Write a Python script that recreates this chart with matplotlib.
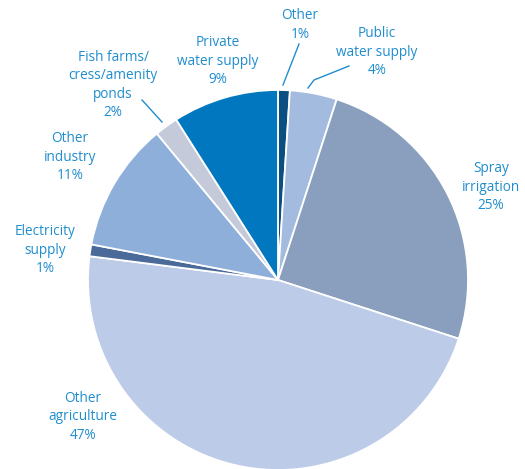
import matplotlib.pyplot as plt

# slices clockwise from 12 o'clock
labels = ['Other', 'Public\nwater supply', 'Spray\nirrigation', 'Other\nagriculture',
          'Electricity\nsupply', 'Other\nindustry', 'Fish farms/\ncress/amenity\nponds',
          'Private\nwater supply']
shares = [1, 4, 25, 47, 1, 11, 2, 9]
colors = ['#0b4f82', '#a3bbdf', '#8a9ebe', '#bccbe8', '#4a6a99', '#8fafdb', '#c5cadb', '#0077be']

# label centres in pixels (x from left, y from top)
label_pos = [(300, 25), (377, 52), (491, 187), (83, 417), (45, 250), (70, 157), (113, 85), (218, 61)]

W, H = 525, 469
fig = plt.figure(figsize=(W / 100, H / 100), dpi=100)
ax = fig.add_axes([0, 0, 1, 1])

cx, cy, r = 278, H - 280, 190
ax.pie(shares, colors=colors, startangle=90, counterclock=False,
       center=(cx, cy), radius=r, frame=True,
       wedgeprops=dict(edgecolor='white', linewidth=1.3))
ax.set_xlim(0, W)
ax.set_ylim(0, H)
ax.set_aspect('equal')
ax.axis('off')

txt_color = '#1f8dce'
for lab, val, (x, y) in zip(labels, shares, label_pos):
    ax.text(x, H - y, lab + '\n' + str(val) + '%', ha='center', va='center',
            fontsize=9.8, color=txt_color, family='Open Sans', linespacing=1.28)

# leader lines
ax.plot([283, 299], [H - 85, H - 44], color=txt_color, lw=1)
ax.plot([308, 314, 349], [H - 88, H - 80, H - 66], color=txt_color, lw=1)
ax.plot([162, 142], [H - 122, H - 100], color=txt_color, lw=1)

fig.savefig('out.png', dpi=100)
